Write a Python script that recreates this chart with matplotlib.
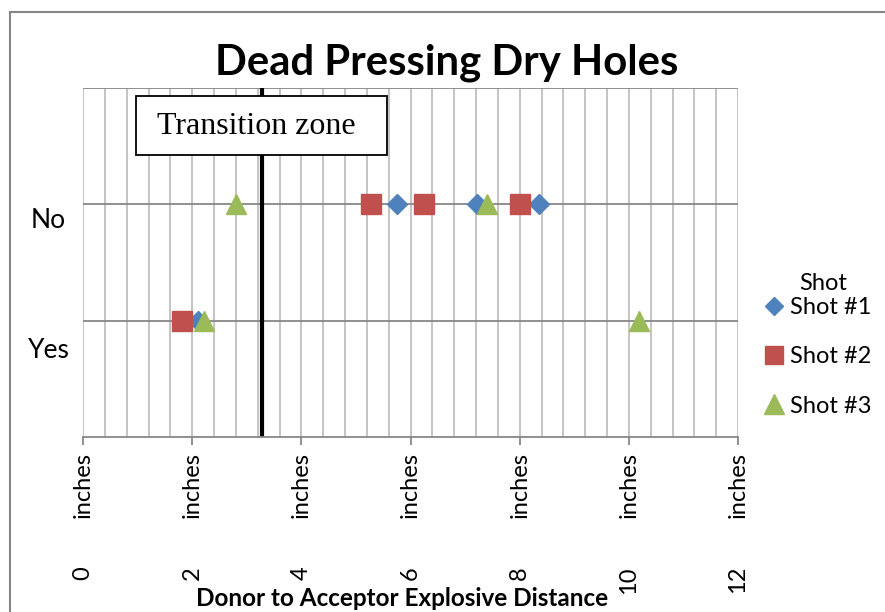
import matplotlib
matplotlib.use("Agg")
import matplotlib.pyplot as plt
from matplotlib.patches import Rectangle
from matplotlib.lines import Line2D
import matplotlib.transforms as mtrans

# ---- data ----
categories = ["Yes", "No"]          # y positions 1, 2
shot1_x = [5.75, 7.22, 8.36, 2.10]
shot1_y = ["No", "No", "No", "Yes"]
shot2_x = [5.27, 6.25, 8.00, 1.81]
shot2_y = ["No", "No", "No", "Yes"]
shot3_x = [2.80, 7.41, 2.22, 10.19]
shot3_y = ["No", "No", "Yes", "Yes"]
series_names = ["Shot #1", "Shot #2", "Shot #3"]
transition_x = 3.28
xtick_values = [0, 2, 4, 6, 8, 10, 12]
xtick_unit = "inches"

SANS = ["Lato", "DejaVu Sans"]
plt.rcParams["font.family"] = SANS

cat_pos = {c: i + 1 for i, c in enumerate(categories)}

fig = plt.figure(figsize=(8.85, 6.12), dpi=100)
W, H = 885, 612
ax = fig.add_axes([83 / W, 1 - 437 / H, (738 - 83) / W, (437 - 88) / H])

ax.set_xlim(0, 12)
ax.set_ylim(0, 3)

# gridlines
for i in range(31):
    ax.axvline(i * 0.4, color="#BFBFBF", lw=1.3, zorder=0)
for y in [1, 2, 3]:
    ax.axhline(y, color="#878787", lw=1.3, zorder=0)

for s in ["left", "right", "top"]:
    ax.spines[s].set_visible(False)
ax.spines["bottom"].set_color("#878787")
ax.spines["bottom"].set_linewidth(1.3)

ax.set_xticks(xtick_values)
ax.set_xticklabels([])
ax.tick_params(axis="x", direction="out", length=6, color="#878787", width=1.3)
ax.set_yticks([])

# x tick labels: number and unit
trans = mtrans.blended_transform_factory(ax.transData, ax.transAxes)
for v in xtick_values:
    ax.text(v, (437 - 566) / 349, f"{v}", rotation=90, ha="center", va="top",
            fontsize=17, transform=trans, clip_on=False)
    ax.text(v, (437 - 452) / 349, xtick_unit, rotation=90, ha="center", va="top",
            fontsize=17, transform=trans, clip_on=False)

# y category labels
fig.text(48 / W, 1 - 220 / H, "No", ha="center", va="center", fontsize=19)
fig.text(49 / W, 1 - 350 / H, "Yes", ha="center", va="center", fontsize=19)

# transition line
ax.axvline(transition_x, color="black", lw=3, zorder=2)

# series
blue, red, green = "#4F81BD", "#C0504D", "#9BBB59"
ax.plot(shot1_x, [cat_pos[c] for c in shot1_y], ls="none", marker="D", ms=9.8,
        color=blue, mec=blue, zorder=3, clip_on=False, label=series_names[0])
ax.plot(shot2_x, [cat_pos[c] for c in shot2_y], ls="none", marker="s", ms=14,
        color=red, mec=red, zorder=3, clip_on=False, label=series_names[1])
ax.plot(shot3_x, [cat_pos[c] for c in shot3_y], ls="none", marker="^", ms=15,
        color=green, mec=green, zorder=4, clip_on=False, label=series_names[2])

# Transition zone box
fig.patches.append(Rectangle((136 / W, 1 - 155 / H), (387 - 136) / W, (155 - 96) / H,
                             transform=fig.transFigure, fc="white", ec="black",
                             lw=1.3, zorder=5))
fig.text(256 / W, 1 - 127 / H, "Transition zone", ha="center", va="center",
         fontsize=23, family=["Liberation Serif", "DejaVu Serif"], zorder=6)

# title & x label
fig.text(447 / W, 1 - 63 / H, "Dead Pressing Dry Holes", ha="center", va="center",
         fontsize=30.2, fontweight="bold")
fig.text(402 / W, 1 - 598 / H, "Donor to Acceptor Explosive Distance", ha="center",
         va="center", fontsize=17.5, fontweight="bold")

# legend
handles = [Line2D([], [], ls="none", marker="D", ms=9, color=blue),
           Line2D([], [], ls="none", marker="s", ms=13, color=red),
           Line2D([], [], ls="none", marker="^", ms=14, color=green)]
leg = fig.legend(handles, series_names, loc="upper left",
                 bbox_to_anchor=(760 / W, 1 - 297 / H), frameon=False,
                 fontsize=17, labelspacing=1.2,
                 handletextpad=0.05, handlelength=1.2, borderaxespad=0, borderpad=0)
fig.text(823 / W, 1 - 283 / H, "Shot", ha="center", va="center", fontsize=17)

# outer border
fig.patches.append(Rectangle((10 / W, -0.1), 1.2, 1 - 12 / H + 0.1,
                             transform=fig.transFigure, fill=False,
                             ec="#868686", lw=1.5, zorder=0))

fig.savefig("out.png", dpi=100)
